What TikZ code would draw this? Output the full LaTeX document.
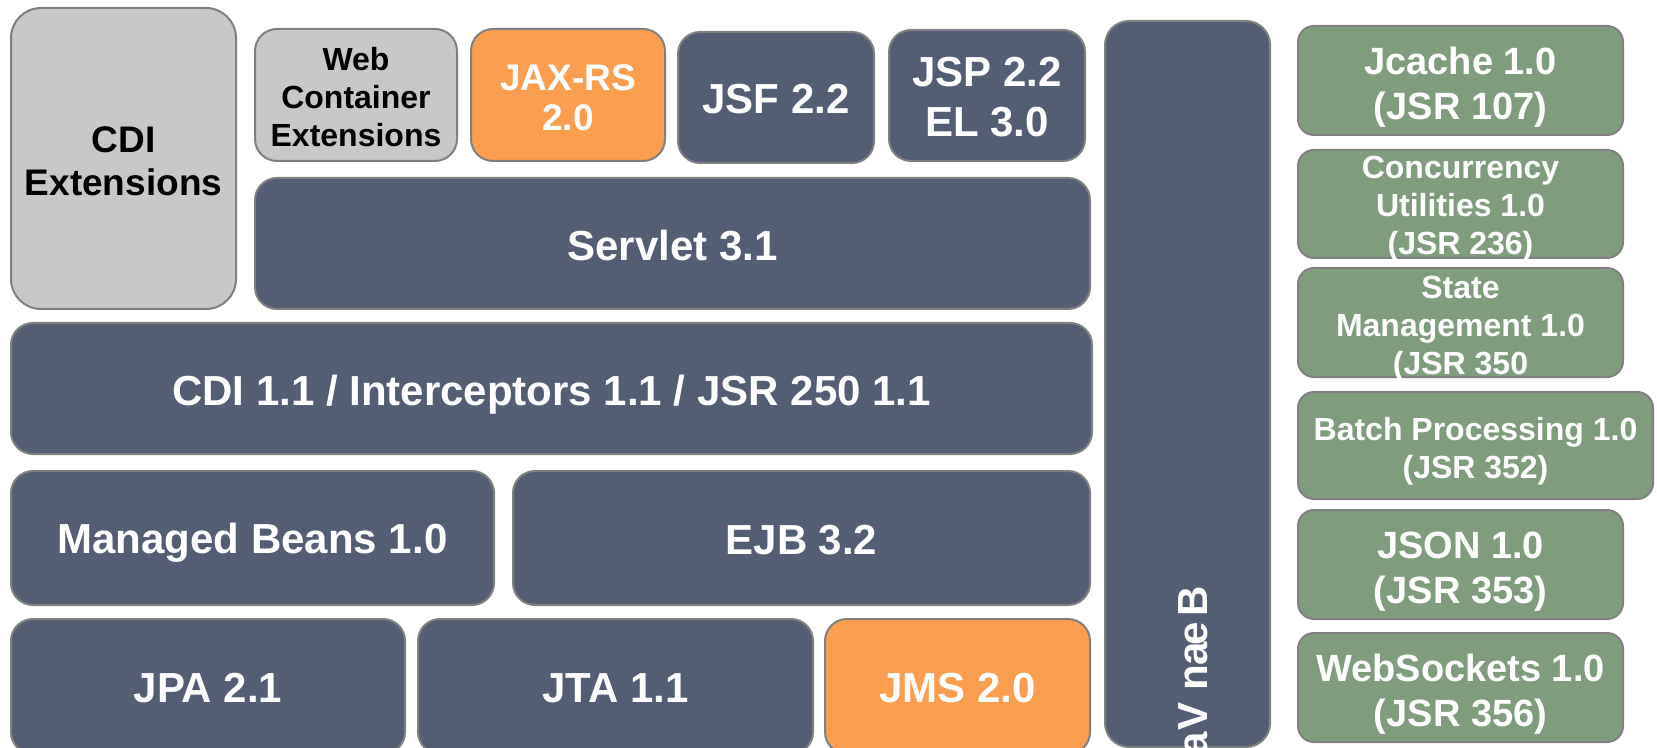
\documentclass[tikz,border=0pt]{standalone}
\usepackage{fontspec}
\setmainfont{Liberation Sans}

\definecolor{slate}{RGB}{83,94,117}
\definecolor{apricot}{RGB}{251,158,79}
\definecolor{pebble}{RGB}{200,200,200}
\definecolor{sage}{RGB}{127,157,125}
\definecolor{rim}{RGB}{128,128,128}

\tikzset{
  brick/.style={draw=rim, line width=1pt, rounded corners=11pt},
  core/.style={brick, fill=slate},
  hot/.style={brick, fill=apricot},
  ext/.style={brick, fill=pebble},
  extra/.style={brick, fill=sage, rounded corners=8pt},
  txt/.style={inner sep=0pt, align=center, text=white, font=\fontsize{21}{25}\selectfont\bfseries},
  midfont/.style={font=\fontsize{18.5}{21.5}\selectfont\bfseries},
  smallfont/.style={font=\fontsize{16}{19}\selectfont\bfseries},
  greenfont/.style={font=\fontsize{19}{22.5}\selectfont\bfseries}
}

\begin{document}
\begin{tikzpicture}[x=0.5pt, y=-0.5pt]
  \useasboundingbox (0,0) rectangle (1657,748);
  \clip (0,0) rectangle (1657,748);

  % extensions and web tier
  \draw[ext, rounded corners=15pt] (11,8) rectangle (236,309);
  \draw[ext] (255,29) rectangle (457,161);
  \draw[hot] (471,29) rectangle (665,161);
  \draw[core] (678,32) rectangle (874,163);
  \draw[core] (889,30) rectangle (1085,161);
  \draw[core] (255,178) rectangle (1090,309);
  \node[txt, midfont, text=black] (cdiext) at (123.5,161.5) {CDI\\Extensions};
  \node[txt, smallfont, text=black] (webext) at (356,97) {Web\\Container\\Extensions};
  \node[txt, font=\fontsize{18.5}{20}\selectfont\bfseries] (jaxrs) at (568,98) {JAX-RS\\2.0};
  \node[txt] (jsf) at (776,99.5) {JSF 2.2};
  \node[txt] (jsp) at (987,97.5) {JSP 2.2\\EL 3.0};
  \node[txt] (servlet) at (672.5,245.5) {Servlet 3.1};

  % container core
  \draw[core] (11,323) rectangle (1092,454);
  \draw[core] (11,471) rectangle (494,605);
  \draw[core] (513,471) rectangle (1090,605);
  \draw[core] (11,619) rectangle (405,754);
  \draw[core] (418,619) rectangle (813,754);
  \draw[hot] (825,619) rectangle (1090,754);
  \node[txt] (cdi) at (551.5,394.5) {CDI 1.1 / Interceptors 1.1 / JSR 250 1.1};
  \node[txt] (mbeans) at (252.5,543) {Managed Beans 1.0};
  \node[txt] (ejb) at (801.5,540) {EJB 3.2};
  \node[txt] (jpa) at (208,688.5) {JPA 2.1};
  \node[txt] (jta) at (615.5,688) {JTA 1.1};
  \node[txt] (jms) at (957.5,688) {JMS 2.0};

  % vertical column, letters stacked downwards
  \draw[core, rounded corners=12pt] (1105,21) rectangle (1270,747);
  \foreach \ch/\yy [count=\k] in {B/601.5, e/634, a/654, n/677.5, V/716, a/744,
      l/762, i/774, d/793, a/817, t/836, i/849, o/868, n/894}
    \node[txt, rotate=90, anchor=base] (bv\k) at (1207,\yy) {\ch};

  % new APIs
  \draw[extra] (1298,26) rectangle (1623,135);
  \draw[extra] (1298,150) rectangle (1623,258);
  \draw[extra] (1298,268) rectangle (1623,377);
  \draw[extra] (1298,392) rectangle (1653,499);
  \draw[extra] (1298,510) rectangle (1623,619);
  \draw[extra] (1298,633) rectangle (1623,742);
  \node[txt, greenfont] (jcache) at (1460.5,87) {Jcache 1.0\\(JSR 107)};
  \node[txt, smallfont] (concur) at (1460.5,209) {Concurrency\\Utilities 1.0\\(JSR 236)};
  \node[txt, smallfont] (state) at (1460.5,328.5) {State\\Management 1.0\\(JSR 350};
  \node[txt, smallfont] (batch) at (1475.5,451) {Batch Processing 1.0\\(JSR 352)};
  \node[txt, greenfont] (json) at (1460.5,572) {JSON 1.0\\(JSR 353)};
  \node[txt, greenfont] (websock) at (1460.5,694) {WebSockets 1.0\\(JSR 356)};
\end{tikzpicture}
\end{document}
